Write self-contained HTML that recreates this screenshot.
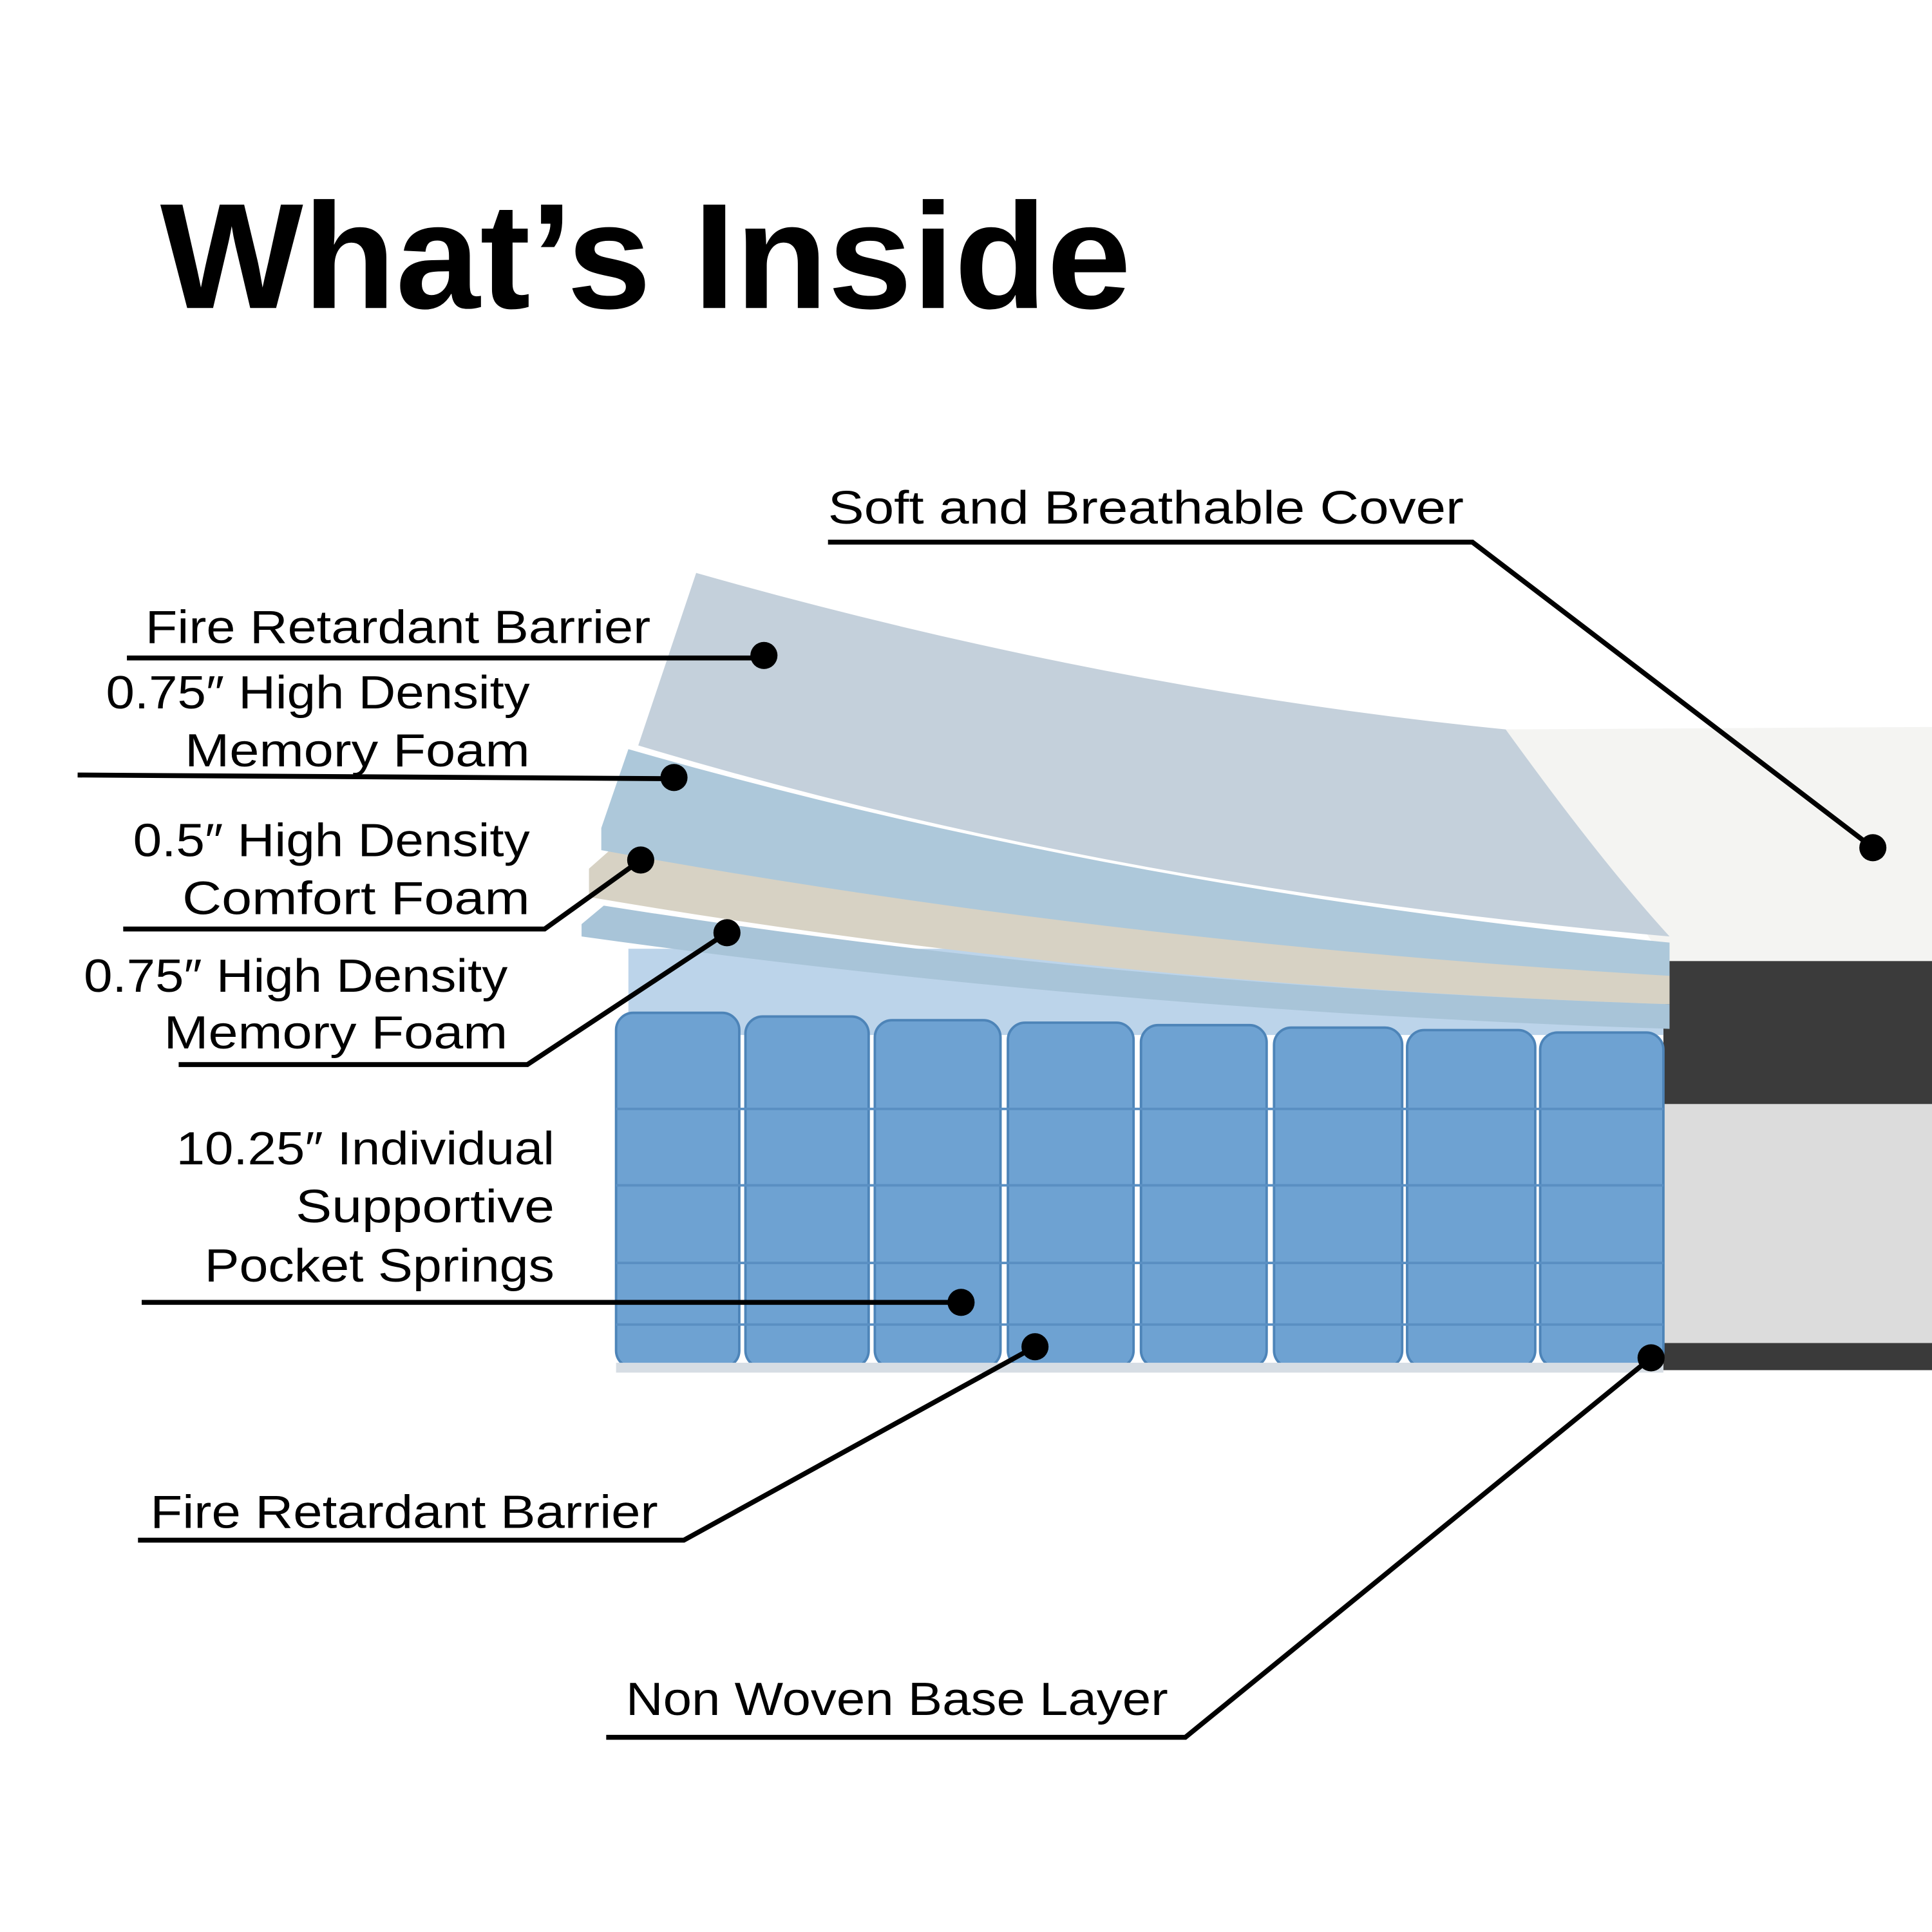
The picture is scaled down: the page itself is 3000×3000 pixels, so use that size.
<!DOCTYPE html>
<html><head><meta charset="utf-8"><style>html,body{margin:0;padding:0;background:#fff}svg{display:block}</style></head>
<body>
<svg width="3000" height="3000" viewBox="0 0 1568 1568" xmlns="http://www.w3.org/2000/svg" font-family="Liberation Sans, sans-serif">
<rect width="1568" height="1568" fill="#fff"/>
<text x="130" y="250" font-size="122" font-weight="bold" textLength="788" lengthAdjust="spacingAndGlyphs" fill="#000">What’s Inside</text>

<path d="M1222,592 L1568,590 L1568,782 L1352,782 Q1300,700 1222,592Z" fill="#f4f4f2"/>
<rect x="1350" y="780" width="218" height="118" fill="#3b3b3b"/>
<rect x="1350" y="896" width="218" height="196" fill="#dcdcdc"/>
<rect x="1350" y="1090" width="218" height="22" fill="#3a3a3a"/>

<rect x="510" y="770" width="840" height="70" fill="#bcd4ea"/>
<g fill="#6ea2d2" stroke="#4d84b8" stroke-width="2">
<rect x="500" y="822" width="100" height="288" rx="14"/>
<rect x="605" y="825" width="100" height="285" rx="14"/>
<rect x="710" y="828" width="102" height="282" rx="14"/>
<rect x="818" y="830" width="102" height="280" rx="14"/>
<rect x="926" y="832" width="102" height="278" rx="14"/>
<rect x="1034" y="834" width="104" height="276" rx="14"/>
<rect x="1142" y="836" width="104" height="274" rx="14"/>
<rect x="1250" y="838" width="100" height="272" rx="14"/>
</g>
<g stroke="#5a8fc2" stroke-width="2" fill="none">
<line x1="500" y1="900" x2="1350" y2="900"/>
<line x1="500" y1="962" x2="1350" y2="962"/>
<line x1="500" y1="1025" x2="1350" y2="1025"/>
<line x1="500" y1="1075" x2="1350" y2="1075"/>
</g>
<rect x="500" y="1106" width="850" height="8" fill="#d6dde4"/>

<path d="M472,750 L490,735 Q900,800 1355,815 L1355,835 Q900,820 472,760Z" fill="#a8c4d8"/>
<path d="M478,705 L495,690 Q900,760 1355,790 L1355,815 Q900,800 478,728Z" fill="#d7d2c4"/>
<path d="M488,672 L510,608 Q900,720 1355,765 L1355,792 Q900,765 488,690Z" fill="#adc8da"/>
<path d="M565,465 Q900,560 1222,592 Q1300,700 1355,760 Q900,720 518,605Z" fill="#c4d0db"/>

<g stroke="#000" stroke-width="4" fill="none">
<polyline points="672,440 1195,440 1520,688"/>
<line x1="103" y1="534" x2="620" y2="534"/>
<line x1="63" y1="629" x2="547" y2="632"/>
<polyline points="100,754 442,754 520,698"/>
<polyline points="145,864 428,864 590,757"/>
<line x1="115" y1="1057" x2="780" y2="1057"/>
<polyline points="112,1250 555,1250 840,1093"/>
<polyline points="492,1410 962,1410 1340,1102"/>
</g>
<g fill="#000">
<circle cx="1520" cy="688" r="11"/><circle cx="620" cy="532" r="11"/>
<circle cx="547" cy="631" r="11"/><circle cx="520" cy="698" r="11"/>
<circle cx="590" cy="757" r="11"/><circle cx="780" cy="1057" r="11"/>
<circle cx="840" cy="1093" r="11"/><circle cx="1340" cy="1102" r="11"/>
</g>

<g font-size="38" fill="#000">
<text x="672" y="425" textLength="516" lengthAdjust="spacingAndGlyphs">Soft and Breathable Cover</text>
<text x="118" y="522" textLength="410" lengthAdjust="spacingAndGlyphs">Fire Retardant Barrier</text>
<text x="86" y="575" textLength="344" lengthAdjust="spacingAndGlyphs">0.75″ High Density</text>
<text x="150" y="622" textLength="280" lengthAdjust="spacingAndGlyphs">Memory Foam</text>
<text x="108" y="695" textLength="322" lengthAdjust="spacingAndGlyphs">0.5″ High Density</text>
<text x="148" y="742" textLength="282" lengthAdjust="spacingAndGlyphs">Comfort Foam</text>
<text x="68" y="805" textLength="344" lengthAdjust="spacingAndGlyphs">0.75″ High Density</text>
<text x="133" y="851" textLength="279" lengthAdjust="spacingAndGlyphs">Memory Foam</text>
<text x="143" y="945" textLength="307" lengthAdjust="spacingAndGlyphs">10.25″ Individual</text>
<text x="240" y="992" textLength="210" lengthAdjust="spacingAndGlyphs">Supportive</text>
<text x="166" y="1040" textLength="284" lengthAdjust="spacingAndGlyphs">Pocket Springs</text>
<text x="122" y="1240" textLength="412" lengthAdjust="spacingAndGlyphs">Fire Retardant Barrier</text>
<text x="508" y="1392" textLength="440" lengthAdjust="spacingAndGlyphs">Non Woven Base Layer</text>
</g>
</svg>
</body></html>
